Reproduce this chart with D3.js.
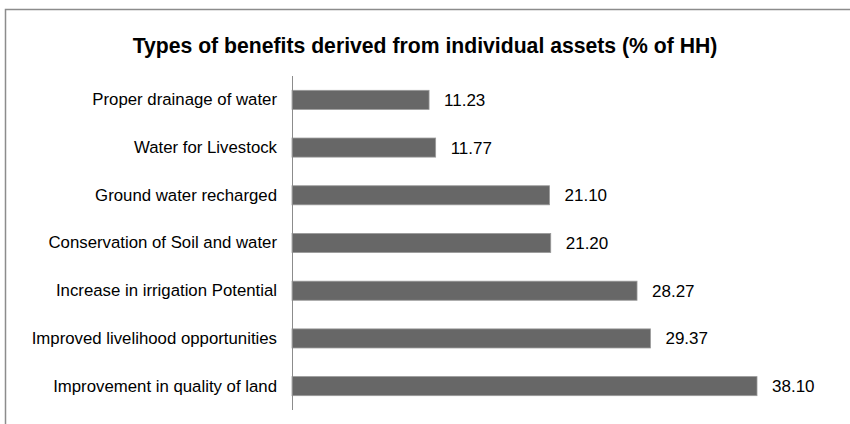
<!DOCTYPE html>
<html>
<head>
<meta charset="utf-8">
<script src="https://cdn.jsdelivr.net/npm/d3@7"></script>
<style>
  html, body { margin: 0; padding: 0; background: #fff; }
  svg { display: block; }
  text { font-family: "Liberation Sans", "DejaVu Sans", sans-serif; fill: #000; }
</style>
</head>
<body>
<svg id="chart" width="850" height="424"></svg>
<script>
// Benefit categories, top to bottom, and share of households (%)
const categories = [
  "Proper drainage of water",
  "Water for Livestock",
  "Ground water recharged",
  "Conservation of Soil and water",
  "Increase in irrigation Potential",
  "Improved livelihood opportunities",
  "Improvement in quality of land"
];
const values = [11.23, 11.77, 21.10, 21.20, 28.27, 29.37, 38.10];
const chartTitle = "Types of benefits derived from individual assets (% of HH)";

const svg = d3.select("#chart");
const W = 850, H = 424;

// outer chart frame
svg.append("rect")
  .attr("x", 5.5).attr("y", 9.5)
  .attr("width", W + 10).attr("height", H + 10)
  .attr("fill", "#fff")
  .attr("stroke", "#8c8c8c").attr("stroke-width", 1.5);

svg.append("text")
  .attr("x", 425).attr("y", 53)
  .attr("text-anchor", "middle")
  .style("font-size", "21.2px").style("font-weight", "bold")
  .text(chartTitle);

const plot = { left: 292, top: 76, bottom: 410 };

const x = d3.scaleLinear().domain([0, 38.10]).range([plot.left, 757]);
const y = d3.scaleBand().domain(categories).range([plot.top, plot.bottom]).paddingInner(0.6).paddingOuter(0.3);

const data = categories.map((c, i) => ({ cat: c, val: values[i] }));

svg.append("g").selectAll("rect")
  .data(data).join("rect")
  .attr("x", x(0))
  .attr("y", d => y(d.cat))
  .attr("width", d => x(d.val) - x(0))
  .attr("height", y.bandwidth())
  .attr("fill", "#676767")
  .attr("stroke", "#9a9a9a").attr("stroke-width", 0.8);

// value labels
svg.append("g").selectAll("text")
  .data(data).join("text")
  .attr("x", d => x(d.val) + 15)
  .attr("y", d => y(d.cat) + y.bandwidth() / 2)
  .attr("dy", "0.35em")
  .style("font-size", "17px")
  .text(d => d.val.toFixed(2));

// category axis
const yAxis = d3.axisLeft(y).tickSize(0).tickPadding(15);
const gAxis = svg.append("g").attr("transform", `translate(${plot.left},0)`).call(yAxis);
gAxis.select(".domain").remove();
gAxis.selectAll("text")
  .style("font-size", "16.8px")
  .style("font-family", "'Liberation Sans', sans-serif")
  .attr("fill", "#000");

svg.append("line")
  .attr("x1", plot.left + 0.5).attr("x2", plot.left + 0.5)
  .attr("y1", plot.top).attr("y2", plot.bottom)
  .attr("stroke", "#8c8c8c").attr("stroke-width", 1);
</script>
</body>
</html>
